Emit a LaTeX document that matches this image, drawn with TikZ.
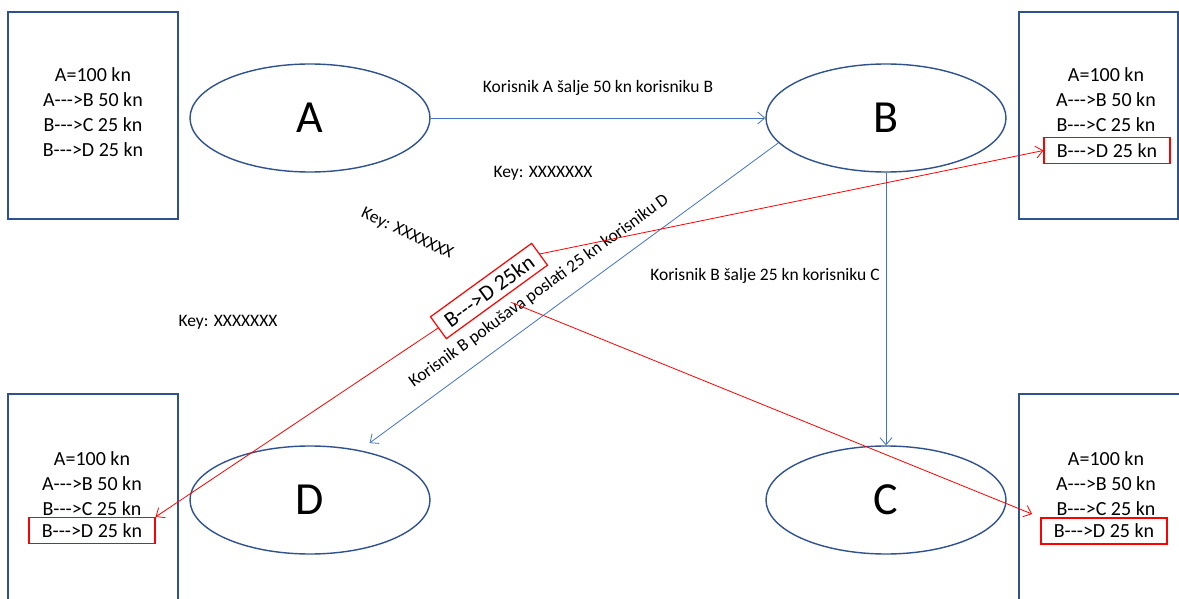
\documentclass[tikz,border=0pt]{standalone}
\usepackage{fontspec}
\setmainfont{Carlito}
\usetikzlibrary{positioning, shapes.geometric, arrows.meta, calc}
\definecolor{boxblue}{HTML}{2F528F}
\definecolor{linkblue}{HTML}{4472C4}
\newcommand{\pay}{-{}-{}->}
\tikzstyle{user} = [ellipse, minimum width=240pt, minimum height=108pt, inner sep=0pt, draw=boxblue, line width=1.4pt, font=\fontsize{46}{46}\selectfont]
\tikzstyle{ledger} = [rectangle, minimum width=170pt, minimum height=207pt, draw=boxblue, line width=1.4pt]
\tikzstyle{entry} = [align=center, font=\fontsize{20}{25}\selectfont]
\tikzstyle{redbox} = [rectangle, minimum width=126pt, minimum height=26pt, inner sep=0pt, draw=red, line width=1.2pt, font=\fontsize{20}{25}\selectfont]
\tikzstyle{lbl} = [font=\fontsize{17.5}{20}\selectfont]
\tikzstyle{arrow} = [-{Straight Barb[length=7pt,width=12pt]}, draw=linkblue, line width=0.8pt]
\tikzstyle{redarrow} = [-{Straight Barb[length=7pt,width=12pt]}, draw=red, line width=0.8pt]

\begin{document}
\begin{tikzpicture}[x=1pt, y=-1pt]
    \useasboundingbox (0,0) rectangle (1179,599);
    \fill[white] (0,0) rectangle (1179,599);
    \clip (0,0) rectangle (1179,599);

    % knjige (ledger) kod svakog korisnika
    \node (ledgerA) [ledger] at (93,115.5) {};
    \node (ledgerB) [ledger, minimum width=159pt] at (1098.5,115.5) {};
    \node (ledgerD) [ledger] at (93,497.5) {};
    \node (ledgerC) [ledger] at (1104,497.5) {};

    \node (listA) [entry] at (93,112.5) {A=100 kn\\A\pay B 50 kn\\B\pay C 25 kn\\B\pay D 25 kn};
    \node (listB) [entry] at (1106,100) {A=100 kn\\A\pay B 50 kn\\B\pay C 25 kn};
    \node (listD) [entry] at (92,484) {A=100 kn\\A\pay B 50 kn\\B\pay C 25 kn};
    \node (listC) [entry] at (1106,484) {A=100 kn\\A\pay B 50 kn\\B\pay C 25 kn};

    \node (rowB) [redbox] at (1107,150.5) {B\pay D 25 kn};
    \node (rowD) [redbox] at (92,530.5) {B\pay D 25 kn};
    \node (rowC) [redbox] at (1104,531) {B\pay D 25 kn};

    % korisnici
    \node (A) [user] at (310,118) {A};
    \node (B) [user] at (886,118) {B};
    \node (D) [user] at (310,500) {D};
    \node (C) [user] at (886,500) {C};

    % kljucevi
    \node (key1) [lbl] at (543,173) {Key: XXXXXXX};
    \node (key2) [lbl, rotate=-25] at (407,234) {Key: XXXXXXX};
    \node (key3) [lbl] at (228,322) {Key: XXXXXXX};

    % transakcije
    \draw [arrow] (A) -- node[lbl, yshift=30pt] {Korisnik A šalje 50 kn korisniku B} (B);
    \draw [arrow] (B) -- node[lbl, pos=0.38, xshift=-121pt] {Korisnik B šalje 25 kn korisniku C} (C);
    \draw [arrow, shorten >=12pt] (B.193) -- (D.45);
    \node (tryD) [lbl, rotate=36] at (539,291) {Korisnik B pokušava poslati 25 kn korisniku D};

    \node (send) [redbox, rotate=36, minimum width=125pt, minimum height=27pt, font=\fontsize{22}{25}\selectfont] at (489,291) {B\pay D 25kn};
    \draw [redarrow] (send.east) -- (rowB.west);
    \draw [redarrow] (send.west) -- (rowD.north east);
    \draw [redarrow, shorten >=9pt] ([xshift=14pt]send.south) -- (rowC.north west);
\end{tikzpicture}
\end{document}
